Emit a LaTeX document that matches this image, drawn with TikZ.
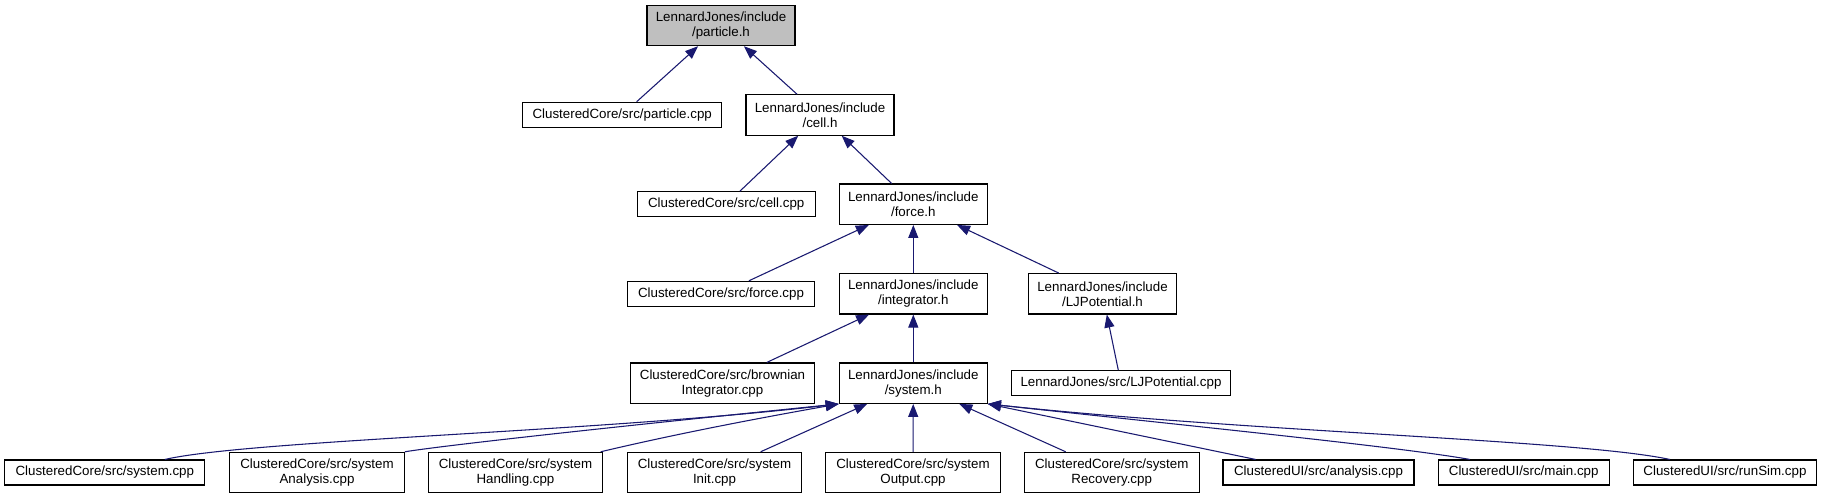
\documentclass[tikz,border=0pt]{standalone}
\usepackage{fontspec}
\setmainfont{Liberation Sans}
\usetikzlibrary{arrows.meta}
\definecolor{edgeblue}{HTML}{191970}
\definecolor{rootgrey}{HTML}{BFBFBF}
\begin{document}
\begin{tikzpicture}[x=0.75pt,y=-0.75pt,
  box/.style={draw=black, line width=0.8pt, fill=white, rectangle, inner sep=0pt,
    align=center, font=\fontsize{10}{11.25}\selectfont, minimum height=18.75pt},
  tall/.style={minimum height=30.3pt},
  hdr/.style={box, tall, minimum width=111pt},
  wide/.style={box, tall, minimum width=131pt},
  edge/.style={draw=edgeblue, line width=0.8pt, -{Triangle[length=9.75pt,width=7.5pt]}}]
\useasboundingbox (0,0) rectangle (1823,499);
\fill[white] (0,0) rectangle (1823,499);

% level 0
\node[hdr, fill=rootgrey] (ph) at (721,25.5) {LennardJones/include\\/particle.h};
% level 1
\node[box, minimum width=149.25pt] (pcpp) at (622.2,114.8) {ClusteredCore/src/particle.cpp};
\node[hdr] (cellh) at (820,115) {LennardJones/include\\/cell.h};
% level 2
\node[box, minimum width=133.3pt] (cellcpp) at (726.2,204.2) {ClusteredCore/src/cell.cpp};
\node[hdr] (forceh) at (913.3,204.2) {LennardJones/include\\/force.h};
% level 3
\node[box, minimum width=140.5pt] (forcecpp) at (721,293.8) {ClusteredCore/src/force.cpp};
\node[hdr] (integh) at (913.3,293.8) {LennardJones/include\\/integrator.h};
\node[hdr] (ljh) at (1102.5,293.8) {LennardJones/include\\/LJPotential.h};
% level 4
\node[box, tall, minimum width=138.3pt] (brown) at (722.5,383.2) {ClusteredCore/src/brownian\\Integrator.cpp};
\node[hdr] (sysh) at (913.3,383.2) {LennardJones/include\\/system.h};
\node[box, minimum width=164pt] (ljcpp) at (1121,383.2) {LennardJones/src/LJPotential.cpp};
% level 5
\node[box, minimum width=150.2pt] (syscpp) at (104.8,472.5) {ClusteredCore/src/system.cpp};
\node[wide] (ana) at (317,472.5) {ClusteredCore/src/system\\Analysis.cpp};
\node[wide] (hand) at (515.5,472.5) {ClusteredCore/src/system\\Handling.cpp};
\node[wide] (init) at (714.5,472.5) {ClusteredCore/src/system\\Init.cpp};
\node[wide] (out) at (913,472.5) {ClusteredCore/src/system\\Output.cpp};
\node[wide] (rec) at (1111.7,472.5) {ClusteredCore/src/system\\Recovery.cpp};
\node[box, minimum width=143.25pt] (anacpp) at (1318.5,472.5) {ClusteredUI/src/analysis.cpp};
\node[box, minimum width=128pt] (maincpp) at (1523.7,472.5) {ClusteredUI/src/main.cpp};
\node[box, minimum width=137.8pt] (runsim) at (1724.9,472.5) {ClusteredUI/src/runSim.cpp};

% edges
\draw[edge] (pcpp) -- (ph);
\draw[edge] (cellh) -- (ph);
\draw[edge] (cellcpp) -- (cellh);
\draw[edge] (forceh) -- (cellh);
\draw[edge] (forcecpp) -- (forceh);
\draw[edge] (integh) -- (forceh);
\draw[edge] (ljh) -- (forceh);
\draw[edge] (brown) -- (integh);
\draw[edge] (sysh) -- (integh);
\draw[edge] (ljcpp) -- (ljh);

\draw[edge] ([xshift=45pt]syscpp.north) .. controls (250,440) and (600,432) .. (sysh.south west);
\draw[edge] (ana.north east) .. controls (460,443) and (700,418) .. (sysh.south west);
\draw[edge] ([xshift=-2pt]hand.north east) .. controls (680,433) and (760,418) .. (sysh.south west);
\draw[edge] (init) -- (sysh);
\draw[edge] (out) -- (sysh);
\draw[edge] (rec) -- (sysh);
\draw[edge] (anacpp) -- (sysh.south east);
\draw[edge] ([xshift=-40.3pt]maincpp.north) .. controls (1400,447) and (1200,427) .. (sysh.south east);
\draw[edge] ([xshift=-41.2pt]runsim.north) .. controls (1580,440) and (1250,432) .. (sysh.south east);
\end{tikzpicture}
\end{document}
